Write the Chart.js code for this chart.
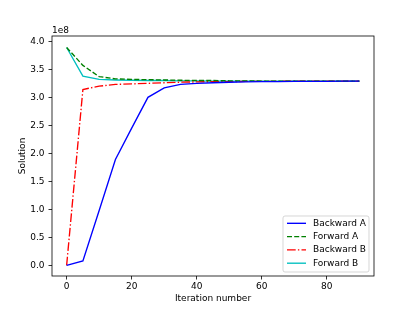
<!DOCTYPE html>
<html>
<head>
<meta charset="utf-8">
<script src="https://cdn.jsdelivr.net/npm/chart.js@4/dist/chart.umd.min.js"></script>
<style>
  html, body { margin: 0; padding: 0; background: #fff; }
  canvas { display: block; }
</style>
</head>
<body>
<canvas id="myChart" width="415" height="311"></canvas>
<script>
// iteration numbers and solution values (in units of 1e8)
const iterations = [0, 5, 10, 15, 20, 25, 30, 35, 40, 45, 50, 55, 60, 65, 70, 75, 80, 85, 90];
const backwardA = [0, 0.08, 0.98, 1.89, 2.45, 3.00, 3.17, 3.23, 3.25, 3.26, 3.27, 3.275, 3.28, 3.28, 3.285, 3.285, 3.285, 3.29, 3.29];
const forwardA  = [3.89, 3.57, 3.37, 3.33, 3.32, 3.315, 3.31, 3.305, 3.30, 3.30, 3.295, 3.295, 3.29, 3.29, 3.29, 3.29, 3.29, 3.29, 3.29];
const backwardB = [0, 3.14, 3.20, 3.23, 3.24, 3.25, 3.26, 3.27, 3.275, 3.28, 3.28, 3.285, 3.285, 3.285, 3.29, 3.29, 3.29, 3.29, 3.29];
const forwardB  = [3.89, 3.38, 3.32, 3.31, 3.305, 3.30, 3.30, 3.295, 3.295, 3.29, 3.29, 3.29, 3.29, 3.29, 3.29, 3.29, 3.29, 3.29, 3.29];
const xTicks = [0, 20, 40, 60, 80];
const yTicks = [0, 0.5, 1.0, 1.5, 2.0, 2.5, 3.0, 3.5, 4.0];

const font = "'DejaVu Sans', sans-serif";

function toPoints(vals) {
    return iterations.map((it, i) => ({ x: it, y: vals[i] * 1e8 }));
}

// box around plot, "1e8" offset text and legend inside the axes
const framePlugin = {
    id: 'frame',
    afterDraw(chart) {
        const c = chart.ctx;
        const a = chart.chartArea;
        c.save();
        c.strokeStyle = '#000';
        c.lineWidth = 0.8;
        c.strokeRect(a.left, a.top, a.right - a.left, a.bottom - a.top);

        c.fillStyle = '#000';
        c.font = '9px ' + font;
        c.textAlign = 'left';
        c.textBaseline = 'alphabetic';
        c.fillText('1e8', a.left, a.top - 3);

        // legend
        const lx = 283, ly = 216, lw = 86, lh = 56;
        c.beginPath();
        c.roundRect(lx, ly, lw, lh, 2);
        c.fillStyle = 'rgba(255,255,255,0.8)';
        c.fill();
        c.strokeStyle = 'rgba(204,204,204,0.8)';
        c.lineWidth = 1;
        c.stroke();
        chart.data.datasets.forEach((ds, i) => {
            const y = 223.3 + i * 13.3;
            c.beginPath();
            c.setLineDash(ds.borderDash || []);
            c.strokeStyle = ds.borderColor;
            c.lineWidth = ds.borderWidth;
            c.moveTo(287, y);
            c.lineTo(306, y);
            c.stroke();
            c.setLineDash([]);
            c.fillStyle = '#000';
            c.textBaseline = 'middle';
            c.fillText(ds.label, 313, y);
        });
        c.restore();
    }
};

const ctx = document.getElementById('myChart').getContext('2d');
const myChart = new Chart(ctx, {
    type: 'scatter',
    data: {
        datasets: [
            { label: 'Backward A', data: toPoints(backwardA), borderColor: '#0000ff', borderDash: [] },
            { label: 'Forward A', data: toPoints(forwardA), borderColor: '#008000', borderDash: [5, 2.2] },
            { label: 'Backward B', data: toPoints(backwardB), borderColor: '#ff0000', borderDash: [8.7, 2.2, 1.4, 2.2] },
            { label: 'Forward B', data: toPoints(forwardB), borderColor: '#00bfbf', borderDash: [] }
        ].map(ds => Object.assign(ds, {
            showLine: true,
            borderWidth: 1.35,
            pointRadius: 0,
            pointHoverRadius: 0,
            tension: 0,
            fill: false
        }))
    },
    options: {
        responsive: false,
        animation: false,
        layout: {
            padding: { left: 0, top: 36, right: 41, bottom: 0 }
        },
        plugins: {
            legend: { display: false },
            tooltip: { enabled: false }
        },
        scales: {
            x: {
                type: 'linear',
                min: -4.5,
                max: 94.5,
                afterFit: (scale) => { scale.height = 35; },
                afterBuildTicks: (scale) => {
                    scale.ticks = xTicks.map(v => ({ value: v }));
                },
                ticks: {
                    color: '#000',
                    font: { family: font, size: 9 },
                    padding: 2,
                    maxRotation: 0,
                    callback: (v) => String(v)
                },
                grid: { drawOnChartArea: false, tickLength: 3.5, color: '#000', lineWidth: 0.8 },
                border: { display: false },
                title: {
                    display: true,
                    text: 'Iteration number',
                    color: '#000',
                    font: { family: font, size: 9 },
                    padding: { top: 0, bottom: 6.6 }
                }
            },
            y: {
                type: 'linear',
                min: -0.19e8,
                max: 4.095e8,
                afterFit: (scale) => { scale.width = 52; },
                afterBuildTicks: (scale) => {
                    scale.ticks = yTicks.map(v => ({ value: v * 1e8 }));
                },
                ticks: {
                    color: '#000',
                    font: { family: font, size: 9 },
                    padding: 4,
                    callback: (v) => (v / 1e8).toFixed(1)
                },
                grid: { drawOnChartArea: false, tickLength: 3.5, color: '#000', lineWidth: 0.8 },
                border: { display: false },
                title: {
                    display: true,
                    text: 'Solution',
                    color: '#000',
                    font: { family: font, size: 9 },
                    padding: { top: 17.6, bottom: 0 }
                }
            }
        }
    },
    plugins: [framePlugin]
});
</script>
</body>
</html>
